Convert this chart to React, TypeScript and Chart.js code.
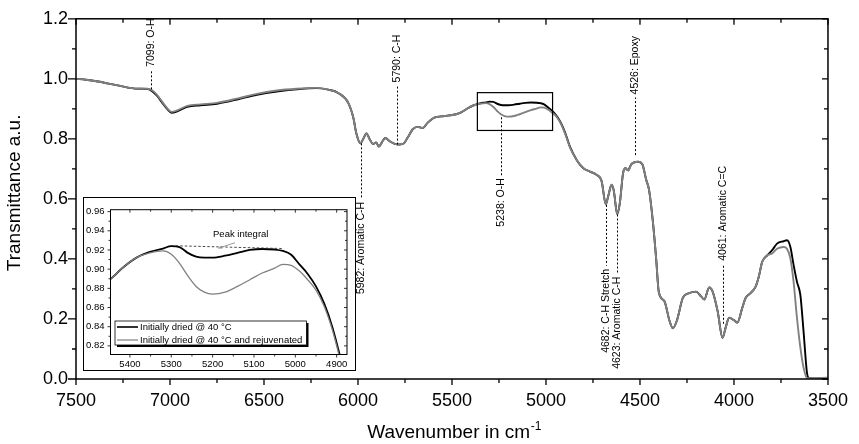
import React, { useEffect, useRef } from "react";
import { Chart, registerables } from "chart.js";

Chart.register(...registerables);

const FONT = "'Liberation Sans', Arial, Helvetica, sans-serif";

// ---- data ----
const wavenumbers = [
  7500, 7447, 7383, 7278, 7172, 7119, 7093, 7067, 7041, 7013, 6992, 6961, 6908, 6837, 6750, 6643, 6538,
  6432, 6327, 6221, 6158, 6105, 6052, 6025, 6008, 5987, 5973, 5955, 5938, 5920, 5903, 5889, 5876, 5855,
  5831, 5805, 5779, 5756, 5735, 5709, 5683, 5656, 5629, 5594, 5541, 5479, 5449, 5416, 5384, 5352, 5320,
  5300, 5280, 5260, 5240, 5220, 5200, 5170, 5140, 5110, 5080, 5050, 5030, 5010, 4990, 4970, 4950, 4930,
  4910, 4890, 4872, 4836, 4801, 4766, 4731, 4704, 4682, 4669, 4651, 4639, 4621, 4607, 4590, 4577, 4563,
  4546, 4510, 4488, 4467, 4452, 4431, 4414, 4400, 4370, 4343, 4325, 4304, 4272, 4238, 4202, 4176, 4158,
  4132, 4114, 4087, 4061, 4044, 4026, 4000, 3982, 3956, 3938, 3912, 3885, 3868, 3850, 3823, 3797, 3771,
  3736, 3718, 3700, 3683, 3665, 3647, 3630, 3612, 3600, 3500,
];

const driedAt40 = [
  1.0, 0.997, 0.991, 0.978, 0.967, 0.966, 0.958, 0.942, 0.92, 0.898, 0.887, 0.892, 0.907, 0.912, 0.917, 0.931, 0.947,
  0.958, 0.965, 0.969, 0.964, 0.953, 0.92, 0.871, 0.816, 0.785, 0.799, 0.818, 0.799, 0.783, 0.788, 0.774, 0.785, 0.803,
  0.792, 0.783, 0.781, 0.785, 0.805, 0.832, 0.84, 0.836, 0.854, 0.871, 0.876, 0.882, 0.889, 0.902, 0.912, 0.918, 0.9215,
  0.924, 0.923, 0.917, 0.913, 0.912, 0.912, 0.914, 0.917, 0.92, 0.921, 0.9205, 0.919, 0.915, 0.905, 0.895, 0.882, 0.864,
  0.839, 0.806, 0.773, 0.729, 0.702, 0.691, 0.68, 0.659, 0.582, 0.609, 0.647, 0.626, 0.549, 0.587, 0.686, 0.702, 0.695,
  0.716, 0.724, 0.716, 0.664, 0.631, 0.522, 0.401, 0.29, 0.259, 0.194, 0.169, 0.194, 0.27, 0.286, 0.291, 0.276, 0.265,
  0.305, 0.292, 0.226, 0.137, 0.172, 0.204, 0.196, 0.188, 0.237, 0.27, 0.286, 0.308, 0.341, 0.39, 0.412, 0.429, 0.451,
  0.459, 0.462, 0.44, 0.38, 0.324, 0.28, 0.159, 0.022, 0.003, 0.002,
];

const driedAndRejuvenated = [
  1.0, 0.997, 0.991, 0.978, 0.967, 0.967, 0.961, 0.945, 0.923, 0.901, 0.89, 0.895, 0.91, 0.915, 0.92, 0.934, 0.95,
  0.961, 0.967, 0.97, 0.964, 0.953, 0.92, 0.871, 0.816, 0.785, 0.799, 0.818, 0.799, 0.783, 0.788, 0.774, 0.785, 0.803,
  0.792, 0.783, 0.781, 0.785, 0.805, 0.832, 0.84, 0.836, 0.854, 0.871, 0.876, 0.882, 0.889, 0.902, 0.912, 0.917, 0.919,
  0.9155, 0.906, 0.893, 0.882, 0.876, 0.874, 0.876, 0.882, 0.889, 0.896, 0.901, 0.905, 0.904, 0.898, 0.889, 0.878, 0.861,
  0.836, 0.803, 0.771, 0.729, 0.702, 0.691, 0.68, 0.659, 0.582, 0.609, 0.647, 0.626, 0.549, 0.587, 0.686, 0.702, 0.695,
  0.716, 0.724, 0.716, 0.664, 0.631, 0.522, 0.401, 0.29, 0.259, 0.194, 0.169, 0.194, 0.27, 0.286, 0.291, 0.276, 0.265,
  0.305, 0.292, 0.226, 0.137, 0.172, 0.204, 0.196, 0.188, 0.237, 0.27, 0.286, 0.308, 0.341, 0.39, 0.412, 0.418, 0.434,
  0.44, 0.434, 0.402, 0.324, 0.204, 0.105, 0.038, 0.004, 0.003, 0.004,
];

const seriesLabels = ["Initially dried @ 40 °C", "Initially dried @ 40 °C and rejuvenated"];
const seriesColors = ["#000000", "#808080"];

const xAxisTitle = "Wavenumber in cm";
const xAxisTitleSup = "-1";
const yAxisTitle = "Transmittance a.u.";

// annotation: wavenumber, text, dashed line from y "from" (at curve) to y "to" (text end)
const annotationWavenumbers = [7099, 5982, 5790, 5238, 4682, 4623, 4526, 4061];
const annotationTexts = [
  "7099: O-H",
  "5982: Aromatic C-H",
  "5790: C-H",
  "5238: O-H",
  "4682: C-H Stretch",
  "4623: Aromatic C-H",
  "4526: Epoxy",
  "4061: Aromatic C=C",
];
const annotationFrom = [0.965, 0.785, 0.781, 0.872, 0.58, 0.548, 0.746, 0.184];
const annotationTo = [1.03, 0.6, 0.978, 0.679, 0.377, 0.351, 0.938, 0.384];

// zoom rectangle in main chart (wavenumber / transmittance)
const zoomBoxX = [5365, 4965];
const zoomBoxY = [0.828, 0.954];

// inset ranges
const insetX = [4875, 5447];
const insetY = [0.811, 0.962];

// peak integral markup in inset
const peakLineX = [5300, 5030];
const peakLineY = [0.9245, 0.9215];
const peakArrowX = [5146, 5186];
const peakArrowY = [0.9276, 0.9218];
const peakLabel = { text: "Peak integral", x: 5132, y: 0.9358 };

// ---- helpers ----
function stepValues(min: number, max: number, step: number) {
  const out: number[] = [];
  const n0 = Math.ceil(min / step - 1e-9);
  const n1 = Math.floor(max / step + 1e-9);
  for (let n = n0; n <= n1; n++) out.push(n * step);
  return out;
}
function isMultiple(v: number, step: number) {
  const r = v / step;
  return Math.abs(r - Math.round(r)) < 1e-6;
}

type FrameCfg = {
  xMajor: number; xMinor: number; yMajor: number; yMinor: number;
  bottomMajor: number; bottomMinor: number; leftMajor: number; leftMinor: number;
  inMajor: number; inMinor: number; frameWidth: number; tickWidth: number;
};

function makeFramePlugin(id: string, c: FrameCfg) {
  return {
    id,
    afterDatasetsDraw(chart: any) {
      const { ctx, chartArea: a, scales } = chart;
      const xs = scales.x;
      const ys = scales.y;
      ctx.save();
      ctx.strokeStyle = "#000";
      ctx.lineWidth = c.tickWidth;
      ctx.beginPath();
      for (const v of stepValues(xs.min, xs.max, c.xMinor)) {
        const major = isMultiple(v, c.xMajor);
        const p = xs.getPixelForValue(v);
        ctx.moveTo(p, a.bottom);
        ctx.lineTo(p, a.bottom + (major ? c.bottomMajor : c.bottomMinor));
        ctx.moveTo(p, a.top);
        ctx.lineTo(p, a.top + (major ? c.inMajor : c.inMinor));
      }
      for (const v of stepValues(ys.min, ys.max, c.yMinor)) {
        const major = isMultiple(v, c.yMajor);
        const p = ys.getPixelForValue(v);
        ctx.moveTo(a.left, p);
        ctx.lineTo(a.left - (major ? c.leftMajor : c.leftMinor), p);
        ctx.moveTo(a.right, p);
        ctx.lineTo(a.right - (major ? c.inMajor : c.inMinor), p);
      }
      ctx.stroke();
      ctx.lineWidth = c.frameWidth;
      ctx.strokeRect(a.left, a.top, a.right - a.left, a.bottom - a.top);
      ctx.restore();
    },
  };
}

const mainAnnotationPlugin = {
  id: "mainAnnotations",
  afterDatasetsDraw(chart: any) {
    const { ctx, scales, chartArea: a } = chart;
    const xs = scales.x;
    const ys = scales.y;
    ctx.save();
    // zoom box
    ctx.strokeStyle = "#000";
    ctx.lineWidth = 1.2;
    const bx1 = xs.getPixelForValue(zoomBoxX[0]);
    const bx2 = xs.getPixelForValue(zoomBoxX[1]);
    const by1 = ys.getPixelForValue(zoomBoxY[1]);
    const by2 = ys.getPixelForValue(zoomBoxY[0]);
    ctx.strokeRect(bx1, by1, bx2 - bx1, by2 - by1);

    // peak labels
    ctx.font = `10.5px ${FONT}`;
    ctx.fillStyle = "#000";
    ctx.textBaseline = "middle";
    annotationWavenumbers.forEach((wn, i) => {
      const px = Math.round(xs.getPixelForValue(wn)) + 0.5;
      const p1 = ys.getPixelForValue(annotationFrom[i]);
      const p2 = ys.getPixelForValue(annotationTo[i]);
      ctx.setLineDash([2, 2]);
      ctx.lineWidth = 1;
      ctx.beginPath();
      ctx.moveTo(px, p1);
      ctx.lineTo(px, p2);
      ctx.stroke();
      ctx.setLineDash([]);
      const above = p2 < p1;
      ctx.save();
      ctx.translate(px, above ? p2 - 3 : p2 + 3);
      ctx.rotate(-Math.PI / 2);
      ctx.textAlign = above ? "left" : "right";
      ctx.fillText(annotationTexts[i], 0, 0);
      ctx.restore();
    });

    // x axis title with superscript
    const cx = (a.left + a.right) / 2 + 2;
    const base = 438;
    ctx.font = `19px ${FONT}`;
    const w1 = ctx.measureText(xAxisTitle).width;
    ctx.font = `12px ${FONT}`;
    const w2 = ctx.measureText(xAxisTitleSup).width;
    const sx = cx - (w1 + w2) / 2;
    ctx.textAlign = "left";
    ctx.textBaseline = "alphabetic";
    ctx.font = `19px ${FONT}`;
    ctx.fillText(xAxisTitle, sx, base);
    ctx.font = `12px ${FONT}`;
    ctx.fillText(xAxisTitleSup, sx + w1 + 0.5, base - 8);

    // y axis title
    ctx.save();
    ctx.translate(15, (a.top + a.bottom) / 2 - 6);
    ctx.rotate(-Math.PI / 2);
    ctx.font = `19px ${FONT}`;
    ctx.textAlign = "center";
    ctx.textBaseline = "middle";
    ctx.fillText(yAxisTitle, 0, 0);
    ctx.restore();
    ctx.restore();
  },
};

const insetExtrasPlugin = {
  id: "insetExtras",
  afterDatasetsDraw(chart: any) {
    const { ctx, scales, chartArea: a } = chart;
    const xs = scales.x;
    const ys = scales.y;
    ctx.save();
    // dashed peak integral baseline
    ctx.strokeStyle = "#333";
    ctx.lineWidth = 0.9;
    ctx.setLineDash([2.5, 2]);
    ctx.beginPath();
    ctx.moveTo(xs.getPixelForValue(peakLineX[0]), ys.getPixelForValue(peakLineY[0]));
    ctx.lineTo(xs.getPixelForValue(peakLineX[1]), ys.getPixelForValue(peakLineY[1]));
    ctx.stroke();
    ctx.setLineDash([]);
    // arrow
    const ax1 = xs.getPixelForValue(peakArrowX[0]);
    const ay1 = ys.getPixelForValue(peakArrowY[0]);
    const ax2 = xs.getPixelForValue(peakArrowX[1]);
    const ay2 = ys.getPixelForValue(peakArrowY[1]);
    ctx.strokeStyle = "#999";
    ctx.fillStyle = "#999";
    ctx.lineWidth = 1;
    ctx.beginPath();
    ctx.moveTo(ax1, ay1);
    ctx.lineTo(ax2, ay2);
    ctx.stroke();
    const ang = Math.atan2(ay2 - ay1, ax2 - ax1);
    ctx.beginPath();
    ctx.moveTo(ax2, ay2);
    ctx.lineTo(ax2 - 4 * Math.cos(ang - 0.45), ay2 - 4 * Math.sin(ang - 0.45));
    ctx.lineTo(ax2 - 4 * Math.cos(ang + 0.45), ay2 - 4 * Math.sin(ang + 0.45));
    ctx.closePath();
    ctx.fill();
    // label
    ctx.fillStyle = "#000";
    ctx.font = `9.5px ${FONT}`;
    ctx.textAlign = "center";
    ctx.textBaseline = "middle";
    ctx.fillText(peakLabel.text, xs.getPixelForValue(peakLabel.x), ys.getPixelForValue(peakLabel.y));

    // legend box with shadow
    const lx = a.left + 4.5;
    const ly = a.bottom - 33.5;
    const lw = 191.5;
    const lh = 24;
    ctx.fillStyle = "#000";
    ctx.fillRect(lx + 2, ly + 2, lw, lh);
    ctx.fillStyle = "#fff";
    ctx.fillRect(lx, ly, lw, lh);
    ctx.strokeStyle = "#000";
    ctx.lineWidth = 0.8;
    ctx.strokeRect(lx, ly, lw, lh);
    const ds = chart.data.datasets;
    ds.forEach((d: any, i: number) => {
      const ry = ly + 6 + i * 13;
      ctx.strokeStyle = d.borderColor;
      ctx.lineWidth = i === 0 ? 1.6 : 1.2;
      ctx.beginPath();
      ctx.moveTo(lx + 2, ry);
      ctx.lineTo(lx + 23, ry);
      ctx.stroke();
      ctx.fillStyle = "#000";
      ctx.font = `9.5px ${FONT}`;
      ctx.textAlign = "left";
      ctx.textBaseline = "middle";
      ctx.fillText(d.label, lx + 25, ry + 0.5);
    });
    ctx.restore();
  },
};

function buildDatasets(widths: number[]) {
  return [
    {
      label: seriesLabels[0],
      data: wavenumbers.map((w, i) => ({ x: w, y: driedAt40[i] })),
      borderColor: seriesColors[0],
      borderWidth: widths[0],
      pointRadius: 0,
      cubicInterpolationMode: "monotone" as const,
      order: 2,
    },
    {
      label: seriesLabels[1],
      data: wavenumbers.map((w, i) => ({ x: w, y: driedAndRejuvenated[i] })),
      borderColor: seriesColors[1],
      borderWidth: widths[1],
      pointRadius: 0,
      cubicInterpolationMode: "monotone" as const,
      order: 1,
    },
  ];
}

export default function App() {
  const mainRef = useRef<HTMLCanvasElement>(null);
  const insetRef = useRef<HTMLCanvasElement>(null);

  useEffect(() => {
    const tickFont = { family: FONT, size: 18 };
    const main = new Chart(mainRef.current as HTMLCanvasElement, {
      type: "line",
      data: { datasets: buildDatasets([1.9, 1.9]) as any },
      options: {
        animation: false,
        responsive: false,
        events: [],
        layout: { padding: { top: 13, right: 26, left: 0, bottom: 0 } },
        plugins: { legend: { display: false }, tooltip: { enabled: false } },
        scales: {
          x: {
            type: "linear",
            min: 3500,
            max: 7500,
            reverse: true,
            grid: { display: false, drawTicks: false },
            border: { display: false },
            ticks: {
              stepSize: 500,
              padding: 11,
              font: tickFont,
              color: "#000",
              maxRotation: 0,
              autoSkip: false,
              callback: (v: any) => String(v),
            },
            afterFit: (s: any) => {
              s.height = 65;
            },
          },
          y: {
            type: "linear",
            min: 0,
            max: 1.2,
            grid: { display: false, drawTicks: false },
            border: { display: false },
            ticks: {
              stepSize: 0.2,
              padding: 8,
              font: tickFont,
              color: "#000",
              callback: (v: any) => Number(v).toFixed(1),
            },
            afterFit: (s: any) => {
              s.width = 76;
            },
          },
        },
      } as any,
      plugins: [
        makeFramePlugin("mainFrame", {
          xMajor: 500, xMinor: 250, yMajor: 0.2, yMinor: 0.1,
          bottomMajor: 6, bottomMinor: 4, leftMajor: 8, leftMinor: 4,
          inMajor: 6, inMinor: 4, frameWidth: 1.5, tickWidth: 1.3,
        }),
        mainAnnotationPlugin,
      ],
    });

    const smallFont = { family: FONT, size: 9.5 };
    const inset = new Chart(insetRef.current as HTMLCanvasElement, {
      type: "line",
      data: { datasets: buildDatasets([1.8, 1.3]) as any },
      options: {
        animation: false,
        responsive: false,
        events: [],
        layout: { padding: { top: 7.7, right: 8, left: 0, bottom: 0 } },
        plugins: { legend: { display: false }, tooltip: { enabled: false } },
        scales: {
          x: {
            type: "linear",
            min: insetX[0],
            max: insetX[1],
            reverse: true,
            grid: { display: false, drawTicks: false },
            border: { display: false },
            ticks: {
              stepSize: 100,
              includeBounds: false,
              padding: 4,
              font: smallFont,
              color: "#000",
              maxRotation: 0,
              autoSkip: false,
              callback: (v: any) => String(Math.round(Number(v))),
            },
            afterFit: (s: any) => {
              s.height = 15.5;
            },
          },
          y: {
            type: "linear",
            min: insetY[0],
            max: insetY[1],
            grid: { display: false, drawTicks: false },
            border: { display: false },
            ticks: {
              stepSize: 0.02,
              includeBounds: false,
              padding: 6,
              font: smallFont,
              color: "#000",
              callback: (v: any) => Number(v).toFixed(2),
            },
            afterFit: (s: any) => {
              s.width = 26.5;
            },
          },
        },
      } as any,
      plugins: [
        makeFramePlugin("insetFrame", {
          xMajor: 100, xMinor: 50, yMajor: 0.02, yMinor: 0.01,
          bottomMajor: 3, bottomMinor: 2, leftMajor: 3, leftMinor: 2,
          inMajor: 3, inMinor: 2, frameWidth: 1, tickWidth: 0.8,
        }),
        insetExtrasPlugin,
      ],
    });

    return () => {
      main.destroy();
      inset.destroy();
    };
  }, []);

  return (
    <div style={{ position: "fixed", left: 0, top: 0, width: 859, height: 444, background: "#fff" }}>
      <canvas ref={mainRef} width={859} height={444} style={{ position: "absolute", left: 0, top: 0 }} />
      <div
        style={{
          position: "absolute",
          left: 83,
          top: 197,
          width: 273,
          height: 174,
          border: "1px solid #000",
          boxSizing: "border-box",
          background: "#fff",
        }}
      >
        <canvas ref={insetRef} width={271} height={172} style={{ display: "block" }} />
      </div>
    </div>
  );
}
